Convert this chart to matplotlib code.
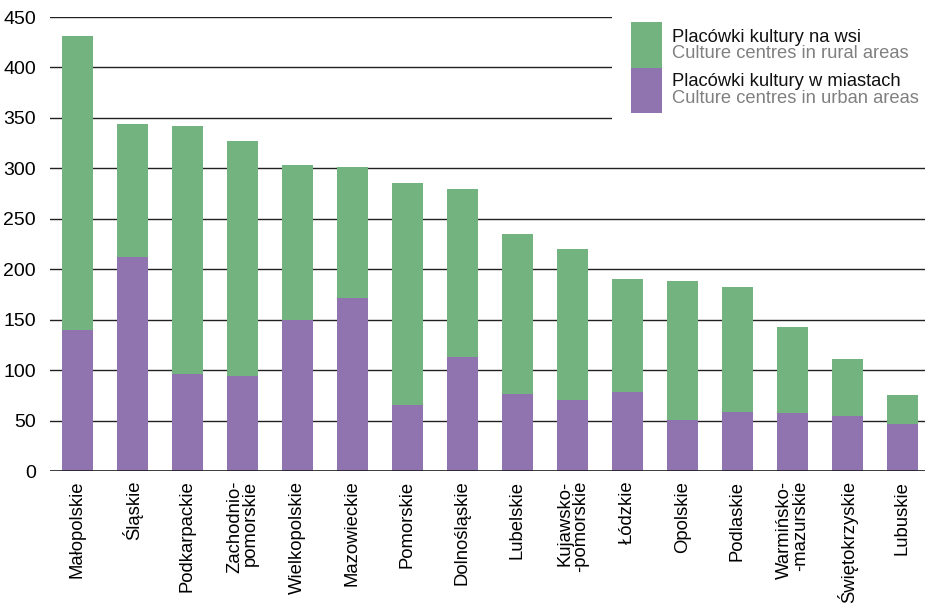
import matplotlib.pyplot as plt
from matplotlib.patches import Rectangle

plt.rcParams['font.family'] = ['Liberation Sans', 'DejaVu Sans']

regions = ['Małopolskie', 'Śląskie', 'Podkarpackie', 'Zachodnio-\npomorskie',
           'Wielkopolskie', 'Mazowieckie', 'Pomorskie', 'Dolnośląskie',
           'Lubelskie', 'Kujawsko-\n-pomorskie', 'Łódzkie', 'Opolskie',
           'Podlaskie', 'Warmińsko-\n-mazurskie', 'Świętokrzyskie', 'Lubuskie']
total = [431, 344, 342, 327, 303, 301, 285, 280, 235, 220, 190, 188, 182, 143, 111, 75]
urban = [140, 212, 96, 94, 150, 171, 65, 113, 76, 70, 78, 51, 58, 57, 55, 47]
rural = [t - u for t, u in zip(total, urban)]

green = '#72B37F'
purple = '#8F74AF'

fig = plt.figure(figsize=(9.25, 6.05), dpi=100)
ax = fig.add_axes([50 / 925, 1 - 471 / 605, 875 / 925, 454 / 605])

x = range(len(regions))
ax.bar(x, urban, width=0.56, color=purple, zorder=3)
ax.bar(x, rural, bottom=urban, width=0.56, color=green, zorder=3)

ax.set_ylim(0, 450)
ax.set_xlim(-0.5, 15.41)
ax.set_yticks(range(0, 451, 50))
ax.yaxis.grid(True, color='#222222', linewidth=1, zorder=0)
ax.axhline(0, color='#111111', linewidth=1.8, zorder=4)
for s in ax.spines.values():
    s.set_visible(False)
ax.tick_params(axis='y', length=0, pad=10, labelsize=14)
ax.tick_params(axis='x', length=0, pad=7, labelsize=13.3)
ax.set_xticks(list(x))
ax.set_xticklabels(regions, rotation=90, ha='center', va='top',
                   multialignment='right', linespacing=0.9)

# legend drawn by hand, in pixel positions of the figure
def px(xp, yp):
    return xp / 925, 1 - yp / 605

fig.patches.append(Rectangle(px(612, 125), 313 / 925, 110 / 605,
                             transform=fig.transFigure, facecolor='white',
                             edgecolor='none', zorder=5))
fig.patches.append(Rectangle(px(631, 68), 31 / 925, 46 / 605,
                             transform=fig.transFigure, facecolor=green, zorder=6))
fig.patches.append(Rectangle(px(631, 113), 31 / 925, 45 / 605,
                             transform=fig.transFigure, facecolor=purple, zorder=6))
fig.text(*px(672, 37), 'Placówki kultury na wsi', fontsize=13.2, color='#111111',
         va='center', zorder=7)
fig.text(*px(672, 53), 'Culture centres in rural areas', fontsize=13.2, color='#808080',
         va='center', zorder=7)
fig.text(*px(672, 82), 'Placówki kultury w miastach', fontsize=13.2, color='#111111',
         va='center', zorder=7)
fig.text(*px(672, 99), 'Culture centres in urban areas', fontsize=13.2, color='#808080',
         va='center', zorder=7)

fig.savefig('out.png', dpi=100)
